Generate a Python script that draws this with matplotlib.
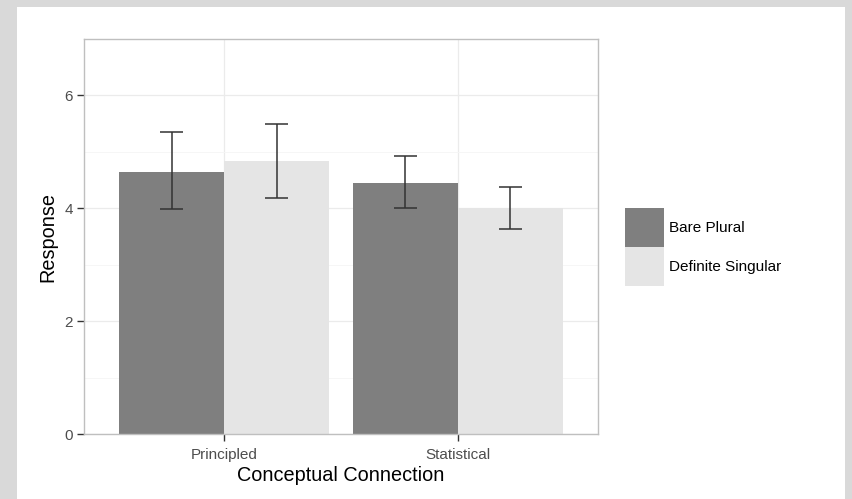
import numpy as np
import matplotlib
matplotlib.use("Agg")
import matplotlib.pyplot as plt
from matplotlib.patches import Rectangle, Patch

plt.rcParams["font.family"] = ["Liberation Sans", "DejaVu Sans"]

# data
categories = ["Principled", "Statistical"]
groups = ["Bare Plural", "Definite Singular"]
means = {
    "Bare Plural": [4.65, 4.45],
    "Definite Singular": [4.83, 4.01],
}
err_low = {
    "Bare Plural": [3.98, 4.01],
    "Definite Singular": [4.19, 3.63],
}
err_high = {
    "Bare Plural": [5.35, 4.93],
    "Definite Singular": [5.50, 4.38],
}
colors = {"Bare Plural": "#7f7f7f", "Definite Singular": "#e5e5e5"}

W, H = 852, 499
fig = plt.figure(figsize=(W / 100, H / 100), dpi=100)
fig.patch.set_facecolor("#d9d9d9")
fig.patches.append(Rectangle((17 / W, 0), (845 - 17) / W, (499 - 7) / H,
                             transform=fig.transFigure, facecolor="white",
                             edgecolor="none", zorder=-10))

ax = fig.add_axes([84 / W, (H - 434) / H, (598 - 84) / W, (434 - 39) / H])
ax.set_facecolor("white")

x = np.arange(1, len(categories) + 1)
bw = 0.45
for i, g in enumerate(groups):
    xs = x + (i - 0.5) * bw
    ax.bar(xs, means[g], width=bw, color=colors[g], zorder=2)
    lo = np.array(err_low[g])
    hi = np.array(err_high[g])
    ax.vlines(xs, lo, hi, color="#333333", lw=1.1, zorder=3)
    ax.hlines(lo, xs - 0.05, xs + 0.05, color="#333333", lw=1.1, zorder=3)
    ax.hlines(hi, xs - 0.05, xs + 0.05, color="#333333", lw=1.1, zorder=3)

ax.set_xlim(0.4, 2.6)
ax.set_ylim(0, 7)
ax.set_xticks(x, categories)
ax.set_yticks([0, 2, 4, 6])
ax.set_yticks([1, 3, 5, 7], minor=True)
ax.grid(True, which="major", color="#ebebeb", lw=0.9, zorder=0)
ax.grid(True, which="minor", axis="y", color="#f5f5f5", lw=0.6, zorder=0)
ax.set_axisbelow(True)
ax.tick_params(axis="both", which="major", length=5, width=1, color="#333333",
               labelsize=11, labelcolor="#4d4d4d", pad=3)
ax.tick_params(axis="x", which="major", pad=5)
ax.tick_params(axis="y", which="minor", length=0)
for s in ax.spines.values():
    s.set_color("#bfbfbf")
    s.set_linewidth(1)

ax.set_xlabel("Conceptual Connection", fontsize=14.3, labelpad=3)
ax.set_ylabel("Response", fontsize=14.3, labelpad=5)

handles = [Patch(facecolor=colors[g], edgecolor="none", label=g) for g in groups]
fig.legend(handles=handles, loc="upper left", bbox_to_anchor=(625 / W, 1 - 208 / H),
           frameon=False, fontsize=11, handlelength=2.55, handleheight=3.55,
           handletextpad=0.3, labelspacing=0.0, borderaxespad=0, borderpad=0)

fig.savefig("out.png", dpi=100, facecolor=fig.get_facecolor())
